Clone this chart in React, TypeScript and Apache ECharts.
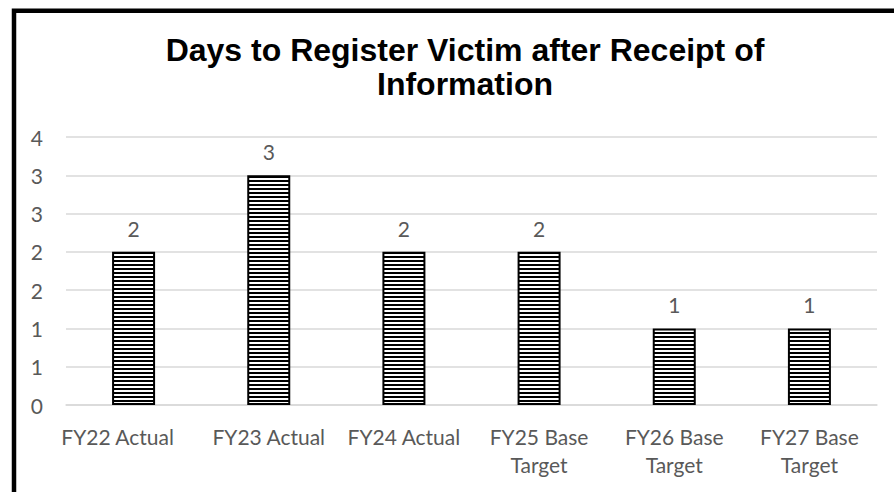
import React, { useEffect, useRef } from "react";
import * as echarts from "echarts";

const categories = [
  "FY22 Actual",
  "FY23 Actual",
  "FY24 Actual",
  "FY25 Base\nTarget",
  "FY26 Base\nTarget",
  "FY27 Base\nTarget",
];
const values = [2, 3, 2, 2, 1, 1];
const titleText = "Days to Register Victim after Receipt of\nInformation";
const yMin = 0;
const yMax = 3.5;
const yInterval = 0.5;

const LABEL_FONT = "Lato, 'Open Sans', sans-serif";

function makeStripe(): HTMLCanvasElement {
  const c = document.createElement("canvas");
  c.width = 4;
  c.height = 4;
  const ctx = c.getContext("2d")!;
  ctx.fillStyle = "#ffffff";
  ctx.fillRect(0, 0, 4, 4);
  ctx.fillStyle = "#000000";
  ctx.fillRect(0, 0, 4, 2);
  return c;
}

export default function App() {
  const ref = useRef<HTMLDivElement>(null);
  useEffect(() => {
    if (!ref.current) return;
    const chart = echarts.init(ref.current, undefined, { renderer: "svg" });
    const stripe = makeStripe();
    chart.setOption({
      animation: false,
      backgroundColor: "#ffffff",
      title: {
        text: titleText,
        left: 460,
        top: 28,
        textAlign: "center",
        textStyle: {
          fontFamily: "'Liberation Sans', Arial, sans-serif",
          fontWeight: "bold",
          fontSize: 32,
          lineHeight: 34,
          color: "#000000",
        },
      },
      graphic: [
        {
          type: "rect",
          shape: { x: 14, y: 10.7, width: 1000, height: 1000 },
          style: { fill: "none", stroke: "#000000", lineWidth: 4.5 },
          silent: true,
        },
      ],
      grid: { left: 66, right: 17, top: 137, bottom: 87, containLabel: false },
      xAxis: {
        type: "category",
        data: categories,
        axisLine: { show: true, lineStyle: { color: "#d9d9d9", width: 1.5 } },
        axisTick: { show: false },
        axisLabel: {
          interval: 0,
          color: "#595959",
          fontFamily: LABEL_FONT,
          fontSize: 21,
          lineHeight: 28,
          margin: 17,
          formatter: (v: string, i: number) => (i === 0 ? "{a|" + v + "}" : v),
          rich: {
            a: {
              color: "#595959",
              fontFamily: LABEL_FONT,
              fontSize: 21,
              lineHeight: 28,
              padding: [0, 32, 0, 0],
            },
          },
        },
      },
      yAxis: {
        type: "value",
        min: yMin,
        max: yMax,
        interval: yInterval,
        axisLine: { show: false },
        axisTick: { show: false },
        splitLine: { lineStyle: { color: "#d9d9d9", width: 1.5 } },
        axisLabel: {
          color: "#595959",
          fontFamily: LABEL_FONT,
          fontSize: 21,
          margin: 23,
          formatter: (v: number) => String(Math.round(v)),
        },
      },
      series: [
        {
          type: "bar",
          data: values,
          barWidth: 43,
          itemStyle: {
            color: { image: stripe, repeat: "repeat" },
            borderColor: "#000000",
            borderWidth: 2,
          },
          label: {
            show: true,
            position: "top",
            distance: 13,
            color: "#595959",
            fontFamily: LABEL_FONT,
            fontSize: 21,
          },
        },
      ],
    });
    return () => chart.dispose();
  }, []);
  return (
    <div
      ref={ref}
      style={{ position: "fixed", left: 0, top: 0, width: 894, height: 492 }}
    />
  );
}
